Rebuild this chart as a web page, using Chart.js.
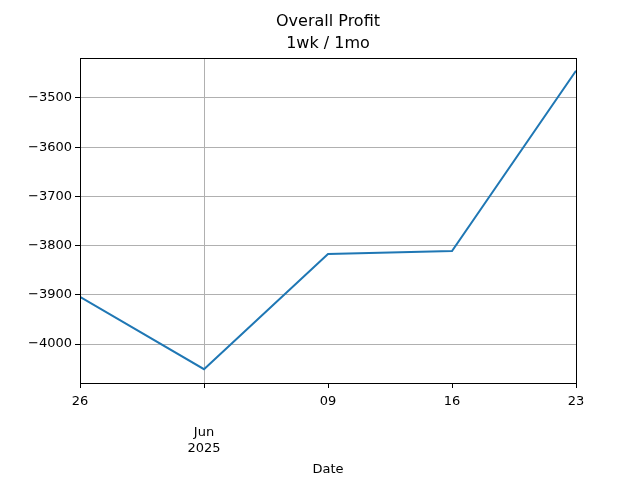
<!DOCTYPE html>
<html><head><meta charset="utf-8">
<script src="https://cdn.jsdelivr.net/npm/chart.js@4"></script>
<style>html,body{margin:0;padding:0;background:#fff}#w{width:640px;height:480px}</style>
</head><body><div id="w"><canvas id="c"></canvas></div>
<script>
const dayOffsets = [0, 7, 14, 21, 28];
const tickLabels = [['26'], ['', '', 'Jun', '2025'], ['09'], ['16'], ['23']];
const profit = [-3904, -4051, -3817, -3811, -3445];
const yTicks = [-4000, -3900, -3800, -3700, -3600, -3500];
const titleLines = ['Overall Profit', '1wk / 1mo'];

const frame = {
  id: 'frame',
  afterDraw(ch) {
    const a = ch.chartArea, g = ch.ctx;
    g.save(); g.strokeStyle = '#000'; g.lineWidth = 1;
    g.strokeRect(a.left + 0.5, a.top + 0.5, a.right - a.left, a.bottom - a.top);
    g.fillStyle = '#000'; g.font = '16px "DejaVu Sans"'; g.textAlign = 'center'; g.textBaseline = 'middle';
    const cx = (a.left + a.right) / 2;
    g.fillText(titleLines[0], cx, 22);
    g.fillText(titleLines[1], cx, 44);
    g.restore();
  }
};

new Chart(document.getElementById('c'), {
  type: 'line',
  data: { datasets: [{
    data: dayOffsets.map((d, i) => ({ x: d, y: profit[i] })),
    borderColor: '#1f77b4', borderWidth: 2, pointRadius: 0, tension: 0
  }]},
  options: {
    responsive: true, maintainAspectRatio: false, animation: false,
    layout: { padding: { left: 0, right: 64, top: 58, bottom: 0 } },
    plugins: { legend: { display: false }, tooltip: { enabled: false }, title: { display: false } },
    scales: {
      x: {
        type: 'linear', min: 0, max: 28,
        afterBuildTicks: s => { s.ticks = dayOffsets.map(v => ({ value: v })); },
        afterFit: s => { s.height = 97; },
        ticks: { color: '#000', padding: 6, font: { family: 'DejaVu Sans', size: 13 }, maxRotation: 0, autoSkip: false,
          callback: (v) => tickLabels[dayOffsets.indexOf(v)] },
        grid: { color: c => (c.tick && c.tick.value === 7) ? '#b0b0b0' : 'rgba(0,0,0,0)', tickColor: '#000', tickLength: 5 },
        border: { color: '#000' },
        title: { display: true, text: 'Date', color: '#000', font: { family: 'DejaVu Sans', size: 13 }, padding: { top: 0, bottom: 3 } }
      },
      y: {
        min: -4079, max: -3419,
        afterBuildTicks: s => { s.ticks = yTicks.map(v => ({ value: v })); },
        afterFit: s => { s.width = 80; },
        ticks: { color: '#000', font: { family: 'DejaVu Sans', size: 13 },
          callback: v => '\u2212' + Math.abs(v) },
        grid: { color: '#b0b0b0', tickColor: '#000', tickLength: 5 },
        border: { color: '#000' }
      }
    }
  },
  plugins: [frame]
});
</script></body></html>
